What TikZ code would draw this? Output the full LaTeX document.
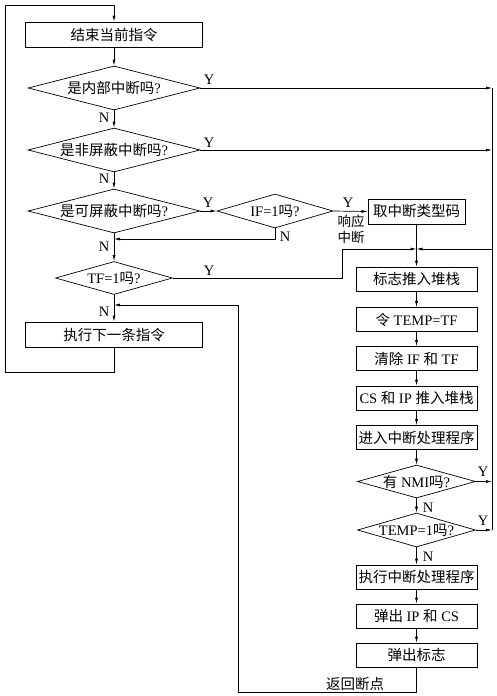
\documentclass[tikz,border=0pt]{standalone}
\usepackage{fontspec}
\setmainfont{Liberation Serif}
\newfontfamily\cjk{Noto Sans CJK SC}
\usetikzlibrary{arrows.meta,shapes.geometric}
\tikzset{
    stepbox/.style={draw, rectangle, minimum height=24pt, inner sep=0pt},
    decision/.style={draw, diamond, inner sep=0pt},
    arr/.style={-{Latex[length=6pt,width=3pt]}},
    lbl/.style={inner sep=1pt}
}
\newcommand{\dtxt}[1]{\makebox[0pt]{#1}}

\begin{document}
\begin{tikzpicture}[x=1pt, y=-1pt, line width=0.7pt, font={\fontsize{14.5}{17}\selectfont}]
    \useasboundingbox (0,0) rectangle (496,696);

    % left column
    \node[stepbox, minimum width=177pt, minimum height=25pt] (end) at (114,34.5) {{\cjk 结束当前指令}};
    \node[decision, minimum width=172pt, minimum height=44pt] (d1) at (114,88) {\dtxt{{\cjk 是内部中断吗}?}};
    \node[decision, minimum width=172pt, minimum height=44pt] (d2) at (114,150) {\dtxt{{\cjk 是非屏蔽中断吗}?}};
    \node[decision, minimum width=172pt, minimum height=44pt] (d3) at (114,211) {\dtxt{{\cjk 是可屏蔽中断吗}?}};
    \node[decision, minimum width=116pt, minimum height=34pt] (dIF) at (275,211) {\dtxt{IF=1{\cjk 吗}?}};
    \node[decision, minimum width=117pt, minimum height=33pt] (dTF) at (114,278) {\dtxt{TF=1{\cjk 吗}?}};
    \node[stepbox, minimum width=177pt, minimum height=25pt] (exec) at (114,334.5) {{\cjk 执行下一条指令}};

    % right column
    \node[stepbox, minimum width=97pt, minimum height=25pt] (bType) at (416.5,211.5) {{\cjk 取中断类型码}};
    \node[stepbox, minimum width=121pt] (b1) at (416.5,279) {{\cjk 标志推入堆栈}};
    \node[stepbox, minimum width=121pt] (b2) at (416.5,319.5) {{\cjk 令} TEMP=TF};
    \node[stepbox, minimum width=121pt] (b3) at (416.5,358.5) {{\cjk 清除} IF {\cjk 和} TF};
    \node[stepbox, minimum width=121pt] (b4) at (416.5,398) {CS {\cjk 和} IP {\cjk 推入堆栈}};
    \node[stepbox, minimum width=121pt] (b5) at (416.5,437.5) {{\cjk 进入中断处理程序}};
    \node[decision, minimum width=118pt, minimum height=33pt] (dNMI) at (416.5,481.5) {\dtxt{{\cjk 有} NMI{\cjk 吗}?}};
    \node[decision, minimum width=118pt, minimum height=34pt] (dTEMP) at (416.5,530) {\dtxt{TEMP=1{\cjk 吗}?}};
    \node[stepbox, minimum width=121pt] (b6) at (416.5,577) {{\cjk 执行中断处理程序}};
    \node[stepbox, minimum width=121pt] (b7) at (416.5,616) {{\cjk 弹出} IP {\cjk 和} CS};
    \node[stepbox, minimum width=121pt] (b8) at (416.5,655) {{\cjk 弹出标志}};

    \coordinate (m) at (416.5,249);
    \coordinate (rt) at (492,88);
    \coordinate (rb) at (492,530);
    \coordinate (jn) at (114,239);
    \coordinate (rj) at (114,305);

    % left flow
    \draw[arr] (exec.south) -- (114,372) -| (5,5) -| (end.north);
    \draw[arr] (end.south) -- (d1.north);
    \draw[arr] (d1.south) -- (d2.north);
    \draw[arr] (d2.south) -- (d3.north);
    \draw[arr] (d3.south) -- (dTF.north);
    \draw[arr] (dTF.south) -- (exec.north);
    \draw[arr] (d3.east) -- (dIF.west);
    \draw[arr] (dIF.south) |- (jn);
    \draw[arr] (dIF.east) -- (bType.west);

    % right flow
    \draw[arr] (d1.east) -- (rt);
    \draw[arr] (d2.east) -- (d2.east -| rt);
    \draw (rt) -- (rb);
    \draw[arr] (rt |- m) -- (m);
    \draw[arr] (dTF.east) -- (342,278) |- (m);
    \draw (bType.south) -- (m);
    \draw[arr] (m) -- (b1.north);
    \draw[arr] (b1) -- (b2);
    \draw[arr] (b2) -- (b3);
    \draw[arr] (b3) -- (b4);
    \draw[arr] (b4) -- (b5);
    \draw[arr] (b5.south) -- (dNMI.north);
    \draw[arr] (dNMI.south) -- (dTEMP.north);
    \draw[arr] (dTEMP.south) -- (b6.north);
    \draw[arr] (b6) -- (b7);
    \draw[arr] (b7) -- (b8);
    \draw[arr] (dNMI.east) -- (dNMI.east -| rt);
    \draw[arr] (dTEMP.east) -- (rb);
    \draw[arr] (b8.south) -- (416.5,692) -| (238,305) -- (rj);

    % labels
    \node[lbl] (y1) at (209,80) {Y};
    \node[lbl] (y2) at (209,143) {Y};
    \node[lbl] (y3) at (208,203) {Y};
    \node[lbl] (y4) at (348,203) {Y};
    \node[lbl] (y5) at (209,271) {Y};
    \node[lbl] (y6) at (483,472) {Y};
    \node[lbl] (y7) at (483,521) {Y};
    \node[lbl] (n1) at (104,118) {N};
    \node[lbl] (n2) at (104,179) {N};
    \node[lbl] (n3) at (104,247) {N};
    \node[lbl] (n4) at (104,312) {N};
    \node[lbl] (n5) at (285,237) {N};
    \node[lbl] (n6) at (428,508) {N};
    \node[lbl] (n7) at (428,557) {N};
    \node[lbl, align=center, font={\fontsize{13.5}{16}\selectfont}] (resp) at (351,229) {{\cjk 响应}\\{\cjk 中断}};
    \node[lbl] (ret) at (355,684) {{\cjk 返回断点}};
\end{tikzpicture}
\end{document}
